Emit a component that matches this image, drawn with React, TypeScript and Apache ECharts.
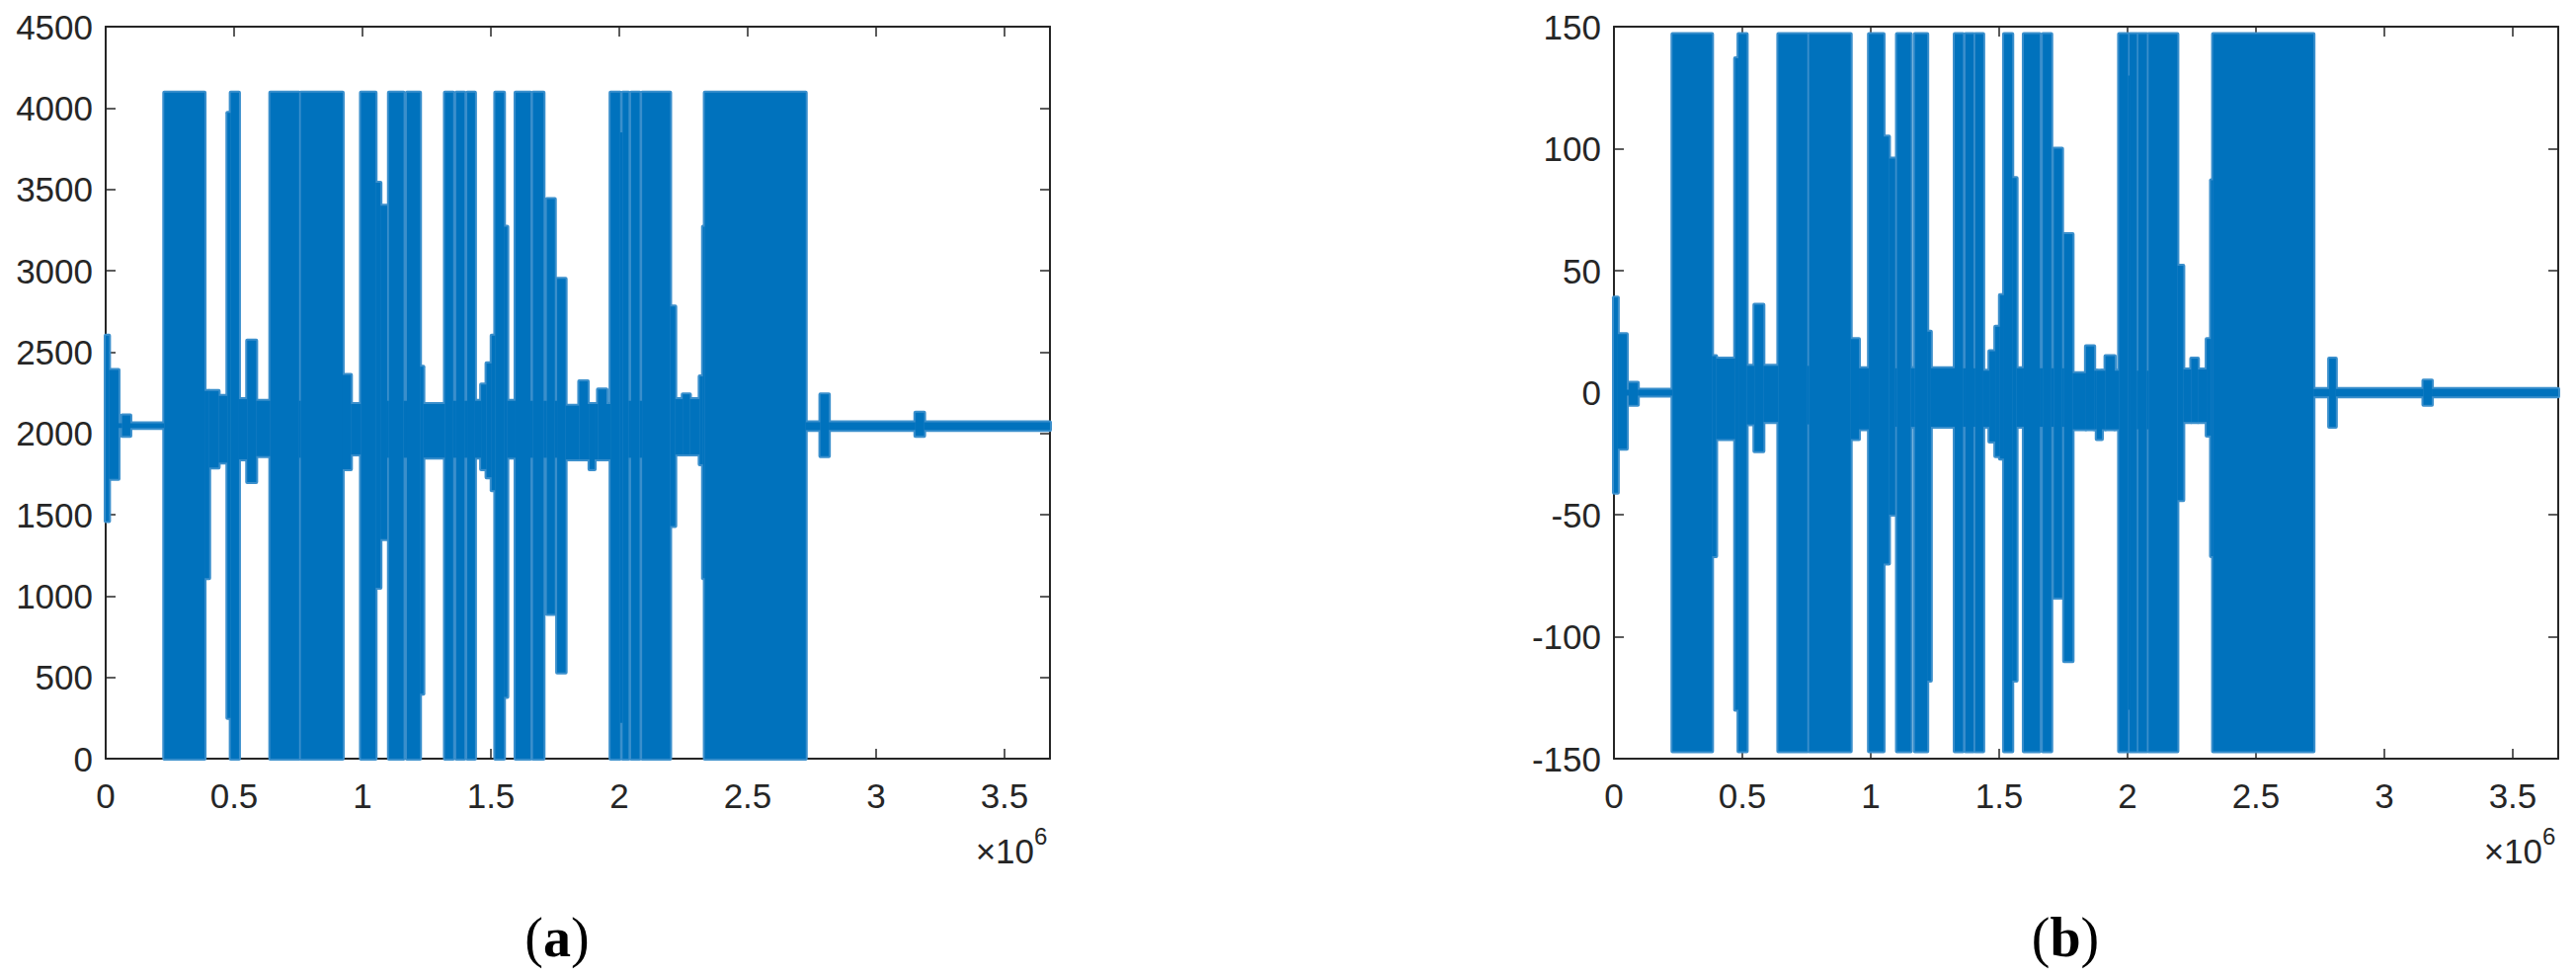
import React, { useEffect, useRef } from "react";
import * as echarts from "echarts";

// x values are in units of 10^6 samples
const X_MAX = 3.677;
const X_STEP = 0.5;
const Y_A = { min: 0, max: 4500, step: 500 };
const Y_B = { min: -150, max: 150, step: 50 };
const PANEL_LABELS = ["a", "b"];
const EXPONENT_LABEL = ["×10", "6"];

// Envelope segments: [xStart, xEnd, low, high]
const segmentsA: number[][] = [
  [0.0, 0.013, 1460, 2600],
  [0.013, 0.05, 1720, 2390],
  [0.05, 0.064, 2033, 2062],
  [0.064, 0.096, 1985, 2110],
  [0.096, 0.228, 2033, 2062],
  [0.228, 0.385, 0, 4095],
  [0.385, 0.403, 1110, 2260],
  [0.403, 0.44, 1790, 2260],
  [0.44, 0.474, 1820, 2230],
  [0.474, 0.487, 250, 3970],
  [0.487, 0.519, 0, 4095],
  [0.519, 0.551, 1840, 2210],
  [0.551, 0.586, 1700, 2570],
  [0.586, 0.641, 1860, 2200],
  [0.641, 0.753, 0, 4095],
  [0.753, 0.76, 1850, 2200],
  [0.76, 0.923, 0, 4095],
  [0.923, 0.955, 1780, 2360],
  [0.955, 0.994, 1870, 2180],
  [0.994, 1.051, 0, 4095],
  [1.051, 1.07, 1050, 3540],
  [1.07, 1.096, 1350, 3400],
  [1.096, 1.103, 1850, 2200],
  [1.103, 1.16, 0, 4095],
  [1.16, 1.173, 1850, 2200],
  [1.173, 1.224, 0, 4095],
  [1.224, 1.237, 400, 2410],
  [1.237, 1.321, 1850, 2180],
  [1.321, 1.353, 0, 4095],
  [1.353, 1.365, 1850, 2200],
  [1.365, 1.397, 0, 4095],
  [1.397, 1.408, 1850, 2200],
  [1.408, 1.438, 0, 4095],
  [1.438, 1.462, 1850, 2200],
  [1.462, 1.483, 1780, 2300],
  [1.483, 1.503, 1730, 2430],
  [1.503, 1.517, 1650, 2600],
  [1.517, 1.551, 0, 4095],
  [1.551, 1.564, 380, 3270],
  [1.564, 1.596, 1850, 2200],
  [1.596, 1.654, 0, 4095],
  [1.654, 1.664, 1850, 2200],
  [1.664, 1.705, 0, 4095],
  [1.705, 1.718, 1850, 2200],
  [1.718, 1.749, 890, 3440],
  [1.749, 1.758, 1850, 2200],
  [1.758, 1.791, 530, 2950],
  [1.791, 1.844, 1840, 2170],
  [1.844, 1.877, 1840, 2320],
  [1.877, 1.884, 1840, 2180],
  [1.884, 1.904, 1780, 2180],
  [1.904, 1.917, 1840, 2180],
  [1.917, 1.95, 1840, 2270],
  [1.95, 1.966, 1840, 2180],
  [1.966, 2.003, 0, 4095],
  [2.003, 2.013, 220, 3850],
  [2.013, 2.036, 0, 4095],
  [2.036, 2.046, 1850, 2200],
  [2.046, 2.079, 0, 4095],
  [2.079, 2.089, 1850, 2200],
  [2.089, 2.198, 0, 4095],
  [2.198, 2.218, 1430, 2780],
  [2.218, 2.247, 1870, 2210],
  [2.247, 2.275, 1870, 2240],
  [2.275, 2.313, 1870, 2210],
  [2.313, 2.326, 1810, 2350],
  [2.326, 2.333, 1110, 3270],
  [2.333, 2.726, 0, 4095],
  [2.726, 2.783, 2020, 2068],
  [2.783, 2.816, 1860, 2240],
  [2.816, 3.153, 2020, 2068],
  [3.153, 3.187, 1985, 2127],
  [3.187, 3.677, 2020, 2068],
];

const segmentsB: number[][] = [
  [0.0, 0.015, -41, 39],
  [0.015, 0.05, -23, 24],
  [0.05, 0.058, -1.2, 1.2],
  [0.058, 0.093, -5, 4],
  [0.093, 0.228, -1.2, 1.2],
  [0.228, 0.382, -147, 147],
  [0.382, 0.398, -67, 15],
  [0.398, 0.472, -19, 14],
  [0.472, 0.485, -130, 137],
  [0.485, 0.517, -147, 147],
  [0.517, 0.547, -13, 11],
  [0.547, 0.582, -24, 36],
  [0.582, 0.64, -12, 11],
  [0.64, 0.753, -147, 147],
  [0.753, 0.76, -13, 11],
  [0.76, 0.922, -147, 147],
  [0.922, 0.954, -19, 22],
  [0.954, 0.993, -15, 10],
  [0.993, 1.05, -147, 147],
  [1.05, 1.071, -70, 105],
  [1.071, 1.095, -50, 96],
  [1.095, 1.102, -14, 10],
  [1.102, 1.156, -147, 147],
  [1.156, 1.172, -14, 10],
  [1.172, 1.22, -147, 147],
  [1.22, 1.234, -118, 25],
  [1.234, 1.327, -14, 10],
  [1.327, 1.359, -147, 147],
  [1.359, 1.369, -14, 10],
  [1.369, 1.4, -147, 147],
  [1.4, 1.407, -14, 10],
  [1.407, 1.438, -147, 147],
  [1.438, 1.462, -14, 9],
  [1.462, 1.485, -20, 17],
  [1.485, 1.503, -26, 27],
  [1.503, 1.519, -27, 40],
  [1.519, 1.551, -147, 147],
  [1.551, 1.568, -118, 88],
  [1.568, 1.596, -14, 10],
  [1.596, 1.658, -147, 147],
  [1.658, 1.67, -14, 10],
  [1.67, 1.703, -147, 147],
  [1.703, 1.713, -14, 10],
  [1.713, 1.745, -84, 100],
  [1.745, 1.753, -14, 10],
  [1.753, 1.786, -110, 65],
  [1.786, 1.838, -15, 8],
  [1.838, 1.87, -15, 19],
  [1.87, 1.88, -15, 9],
  [1.88, 1.9, -19, 9],
  [1.9, 1.914, -15, 9],
  [1.914, 1.95, -15, 15],
  [1.95, 1.967, -15, 9],
  [1.967, 2.002, -147, 147],
  [2.002, 2.008, -130, 130],
  [2.008, 2.036, -147, 147],
  [2.036, 2.042, -15, 9],
  [2.042, 2.075, -147, 147],
  [2.075, 2.082, -15, 9],
  [2.082, 2.194, -147, 147],
  [2.194, 2.217, -44, 52],
  [2.217, 2.248, -12, 9.5],
  [2.248, 2.274, -12, 14],
  [2.274, 2.308, -12, 9.5],
  [2.308, 2.325, -17.6, 22],
  [2.325, 2.333, -67, 87],
  [2.333, 2.724, -147, 147],
  [2.724, 2.785, -1.5, 1.5],
  [2.785, 2.811, -14, 14],
  [2.811, 3.152, -1.5, 1.5],
  [3.152, 3.185, -5, 5],
  [3.185, 3.677, -1.5, 1.5],
];

const LINE_BLUE = "#0072BD";
const RIM_BLUE = "#3a8fcc";
const AXIS_COLOR = "#262626";
const SANS = "Liberation Sans";
const SERIF = "Liberation Serif";

const W = 2608;
const H = 988;
const GRIDS = [
  { left: 107, top: 27, width: 956, height: 741 },
  { left: 1634, top: 27, width: 956, height: 741 },
];

function xLabel(v: number) {
  const r = v / X_STEP;
  if (Math.abs(r - Math.round(r)) > 1e-6) return "";
  return String(+v.toFixed(1));
}

function yLabel(v: number) {
  return String(Math.round(v));
}

function makeRender(rim: boolean) {
  return (params: any, api: any) => {
    const x0 = api.value(0);
    const x1 = api.value(1);
    const lo = api.value(2);
    const hi = api.value(3);
    const p0 = api.coord([x0, hi]);
    const p1 = api.coord([x1, lo]);
    return {
      type: "rect",
      shape: {
        x: p0[0],
        y: p0[1],
        width: Math.max(p1[0] - p0[0], 1),
        height: Math.max(p1[1] - p0[1], 1),
      },
      style: rim
        ? { fill: RIM_BLUE, stroke: RIM_BLUE, lineWidth: 4, lineJoin: "round" }
        : { fill: LINE_BLUE },
    };
  };
}

export default function App() {
  const ref = useRef<HTMLDivElement>(null);

  useEffect(() => {
    if (!ref.current) return;
    const chart = echarts.init(ref.current, null, { renderer: "svg", width: W, height: H });

    const axisLine = { show: true, onZero: false, lineStyle: { color: AXIS_COLOR, width: 2 } };
    const axisTick = { show: true, inside: true, length: 10, lineStyle: { color: AXIS_COLOR, width: 1.5 } };
    const labelBase = { fontSize: 35, fontFamily: SANS, color: AXIS_COLOR };

    const xAxis: any[] = [];
    const yAxis: any[] = [];
    const yCfg = [Y_A, Y_B];
    GRIDS.forEach((g, i) => {
      xAxis.push({
        type: "value", gridIndex: i, min: 0, max: X_MAX, interval: X_STEP, position: "bottom",
        axisLine, axisTick, splitLine: { show: false },
        axisLabel: { ...labelBase, margin: 20, formatter: xLabel, showMaxLabel: false },
      });
      xAxis.push({
        type: "value", gridIndex: i, min: 0, max: X_MAX, interval: X_STEP, position: "top",
        axisLine, axisTick, splitLine: { show: false }, axisLabel: { show: false },
      });
      yAxis.push({
        type: "value", gridIndex: i, min: yCfg[i].min, max: yCfg[i].max, interval: yCfg[i].step,
        position: "left", axisLine, axisTick, splitLine: { show: false },
        axisLabel: { ...labelBase, margin: 13, formatter: yLabel },
      });
      yAxis.push({
        type: "value", gridIndex: i, min: yCfg[i].min, max: yCfg[i].max, interval: yCfg[i].step,
        position: "right", axisLine, axisTick, splitLine: { show: false }, axisLabel: { show: false },
      });
    });

    const segs = [segmentsA, segmentsB];
    const series: any[] = [];
    segs.forEach((data, i) => {
      [true, false].forEach((rim) => {
        series.push({
          type: "custom",
          xAxisIndex: i * 2,
          yAxisIndex: i * 2,
          z: rim ? 2 : 3,
          clip: false,
          silent: true,
          encode: { x: [0, 1], y: [2, 3] },
          renderItem: makeRender(rim),
          data,
        });
      });
    });

    const graphic: any[] = [];
    GRIDS.forEach((g, i) => {
      const right = g.left + g.width;
      graphic.push({
        type: "text", x: right - 16, y: 861,
        style: {
          text: `{n|${EXPONENT_LABEL[0]}}`,
          textAlign: "right", textVerticalAlign: "middle",
          rich: { n: { fontSize: 35, fontFamily: SANS, fill: AXIS_COLOR } },
        },
      });
      graphic.push({
        type: "text", x: right - 16, y: 846,
        style: {
          text: `{s|${EXPONENT_LABEL[1]}}`,
          textAlign: "left", textVerticalAlign: "middle",
          rich: { s: { fontSize: 24, fontFamily: SANS, fill: AXIS_COLOR } },
        },
      });
      graphic.push({
        type: "text", x: g.left + g.width / 2 - 21, y: 949,
        style: {
          text: `{p|(}{b|${PANEL_LABELS[i]}}{p|)}`,
          textAlign: "center", textVerticalAlign: "middle",
          rich: {
            p: { fontFamily: SERIF, fontSize: 56, fontWeight: "normal", fill: "#000" },
            b: { fontFamily: SERIF, fontSize: 56, fontWeight: "bold", fill: "#000" },
          },
        },
      });
    });

    chart.setOption({
      animation: false,
      backgroundColor: "#ffffff",
      grid: GRIDS.map((g) => ({ ...g, containLabel: false })),
      xAxis,
      yAxis,
      series,
      graphic,
    });

    return () => chart.dispose();
  }, []);

  return (
    <div
      ref={ref}
      style={{ position: "absolute", left: 0, top: 0, width: W, height: H, background: "#fff" }}
    />
  );
}
